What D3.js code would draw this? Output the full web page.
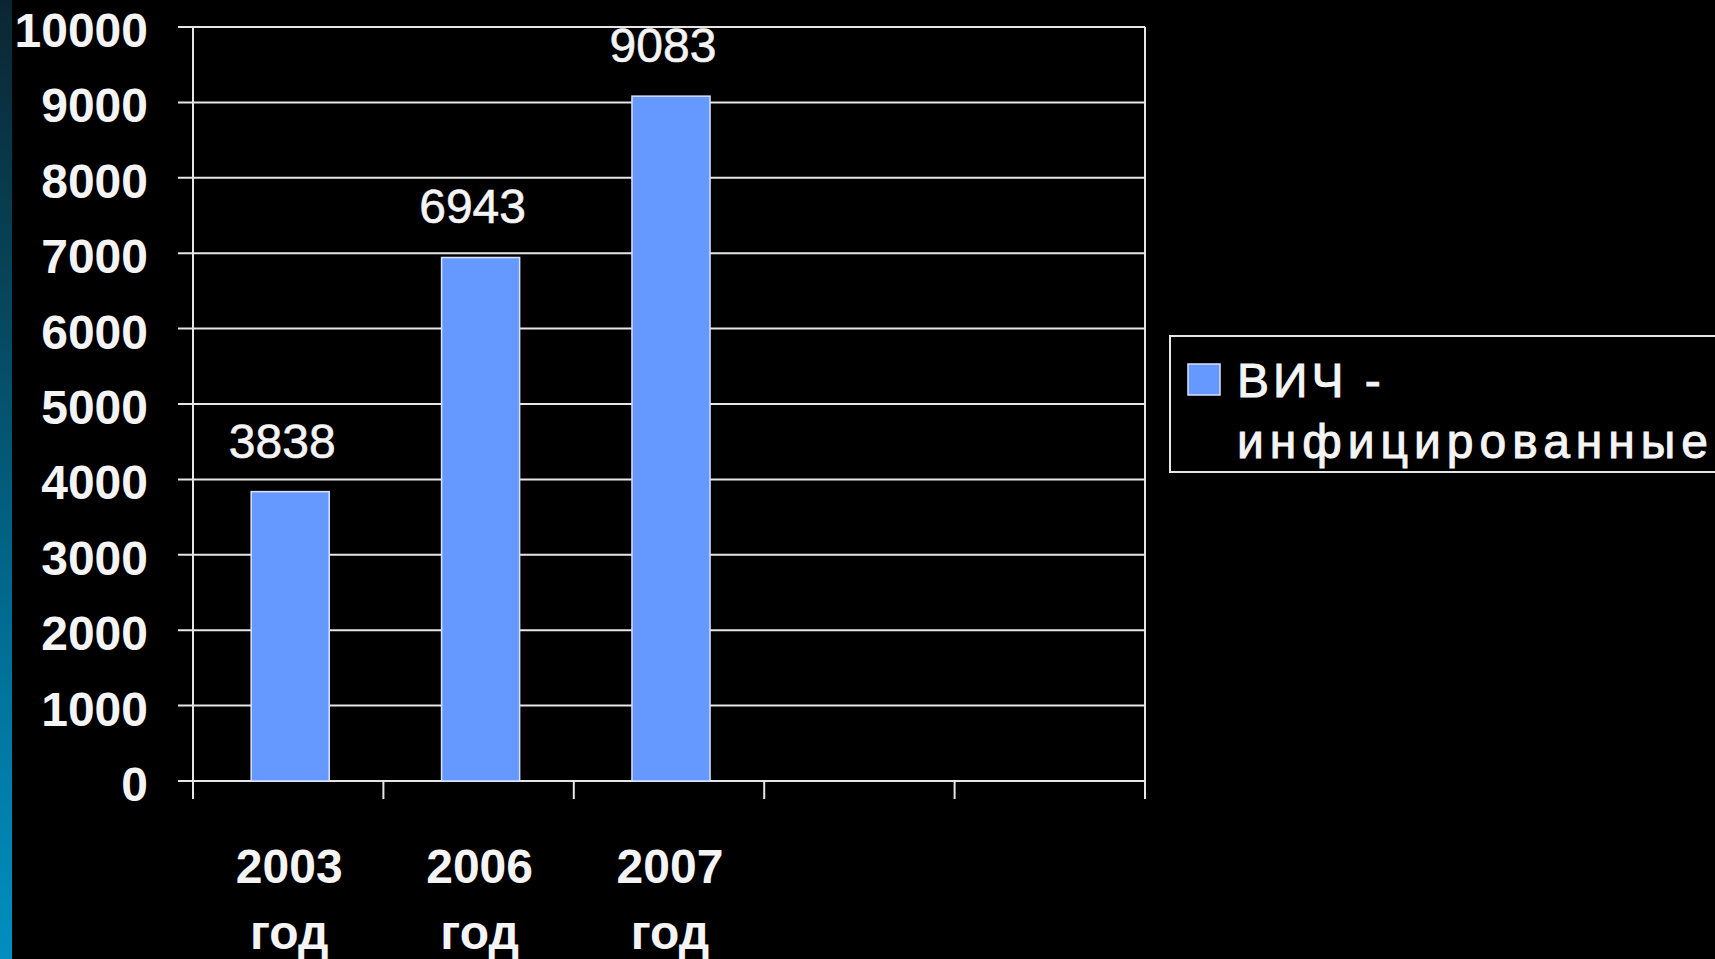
<!DOCTYPE html>
<html>
<head>
<meta charset="utf-8">
<script src="https://cdn.jsdelivr.net/npm/d3@7"></script>
<style>
html,body{margin:0;padding:0;background:#000;overflow:hidden;}
svg{display:block;}
text{font-family:"Liberation Sans",Arial,sans-serif;fill:#f4f4f4;}
</style>
</head>
<body>
<svg id="chart" width="1715" height="959"></svg>
<script>
// ---- data ----
const categories = ["2003", "2006", "2007", "", ""];
const categorySuffix = ["год", "год", "год", "", ""];
const values = [3838, 6943, 9083];
const yTicks = [0, 1000, 2000, 3000, 4000, 5000, 6000, 7000, 8000, 9000, 10000];
const seriesName = ["ВИЧ -", "инфицированные"];

const W = 1715, H = 959;
const svg = d3.select("#chart");

// background + left stripe
const defs = svg.append("defs");
const grad = defs.append("linearGradient").attr("id", "stripe").attr("x1", 0).attr("y1", 0).attr("x2", 0).attr("y2", 1);
grad.append("stop").attr("offset", "0%").attr("stop-color", "#0b2632");
grad.append("stop").attr("offset", "35%").attr("stop-color", "#064a62");
grad.append("stop").attr("offset", "70%").attr("stop-color", "#00729a");
grad.append("stop").attr("offset", "100%").attr("stop-color", "#008fc0");
svg.append("rect").attr("x", 0).attr("y", 0).attr("width", W).attr("height", H).attr("fill", "#000");
svg.append("rect").attr("x", 0).attr("y", 0).attr("width", 12).attr("height", H).attr("fill", "url(#stripe)");

const plot = {left: 193, right: 1145, top: 27, bottom: 781};
const lineColor = "#e6e6e6";

const x = d3.scaleBand().domain(d3.range(categories.length)).range([plot.left, plot.right]).padding(0);
const y = d3.scaleLinear().domain([0, 10000]).range([plot.bottom, plot.top]);

// gridlines with left ticks
svg.append("g").selectAll("line").data(yTicks).join("line")
  .attr("x1", plot.left - 15).attr("x2", plot.right)
  .attr("y1", d => y(d)).attr("y2", d => y(d))
  .attr("stroke", lineColor).attr("stroke-width", 2);

// y labels
svg.append("g").selectAll("text").data(yTicks).join("text")
  .attr("x", 148).attr("y", d => y(d)).attr("dy", 20)
  .attr("text-anchor", "end")
  .attr("font-size", 48).attr("font-weight", "bold")
  .text(d => d);

// vertical axis line and right border
svg.append("line").attr("x1", plot.left).attr("x2", plot.left)
  .attr("y1", plot.top).attr("y2", plot.bottom + 18)
  .attr("stroke", lineColor).attr("stroke-width", 2);
svg.append("line").attr("x1", plot.right).attr("x2", plot.right)
  .attr("y1", plot.top).attr("y2", plot.bottom + 18)
  .attr("stroke", lineColor).attr("stroke-width", 2);

// x tick marks at category boundaries
const bounds = d3.range(categories.length + 1).map(i => i < categories.length ? x(i) : plot.right);
svg.append("g").selectAll("line").data(bounds).join("line")
  .attr("x1", d => d).attr("x2", d => d)
  .attr("y1", plot.bottom).attr("y2", plot.bottom + 18)
  .attr("stroke", lineColor).attr("stroke-width", 2);

// bars
const barW = x.bandwidth() * 0.41;
const cx = i => x(i) + x.bandwidth() / 2;
svg.append("g").selectAll("rect").data(values).join("rect")
  .attr("x", (d, i) => cx(i) - barW / 2 + 2)
  .attr("width", barW)
  .attr("y", d => y(d))
  .attr("height", d => y(0) - y(d))
  .attr("fill", "#6699ff")
  .attr("stroke", "#d8e2ff").attr("stroke-width", 1.5);

// data labels
svg.append("g").selectAll("text").data(values).join("text")
  .attr("x", (d, i) => cx(i) - 6).attr("y", d => y(d) - 34)
  .attr("text-anchor", "middle").attr("font-size", 48)
  .attr("stroke", "#f4f4f4").attr("stroke-width", 0.6)
  .text(d => d);

// x labels
const xl = svg.append("g").selectAll("text").data(categories).join("text")
  .attr("text-anchor", "middle").attr("font-size", 48).attr("font-weight", "bold");
xl.append("tspan").attr("x", (d, i) => cx(i) + 1).attr("y", 883).text(d => d);
xl.append("tspan").attr("x", (d, i) => cx(i) + 1).attr("y", 949).text((d, i) => categorySuffix[i]);

// legend
const lg = svg.append("g");
lg.append("rect").attr("x", 1170).attr("y", 336).attr("width", 600).attr("height", 136)
  .attr("fill", "none").attr("stroke", lineColor).attr("stroke-width", 2);
lg.append("rect").attr("x", 1188).attr("y", 364).attr("width", 32).attr("height", 31)
  .attr("fill", "#6699ff").attr("stroke", "#d8e2ff").attr("stroke-width", 1.5);
lg.append("text").attr("x", 1237).attr("y", 397).attr("font-size", 48)
  .attr("stroke", "#f4f4f4").attr("stroke-width", 1)
  .attr("letter-spacing", 4).text(seriesName[0]);
lg.append("text").attr("x", 1237).attr("y", 458).attr("font-size", 48)
  .attr("stroke", "#f4f4f4").attr("stroke-width", 1)
  .attr("textLength", 471).attr("lengthAdjust", "spacing").text(seriesName[1]);
</script>
</body>
</html>
